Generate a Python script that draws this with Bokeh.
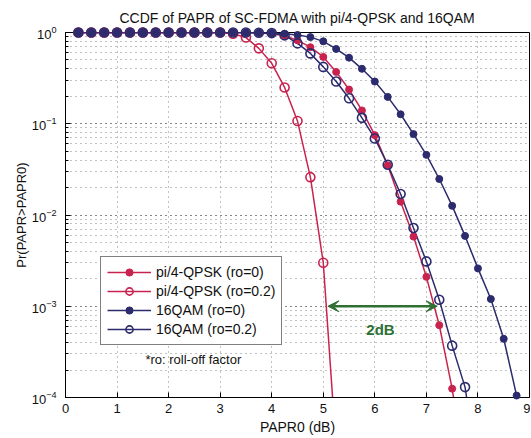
from bokeh.plotting import figure
from bokeh.models import (ColumnDataSource, Legend, LegendItem, Label, Arrow, VeeHead,
                          LogTicker, Range1d)
from bokeh.embed import file_html
from bokeh.resources import INLINE

FONT = "Liberation Sans"
RED = "#c8234f"
NAVY = "#2b2b6e"
GREEN = "#2e7033"

title_text = "CCDF of PAPR of SC-FDMA with pi/4-QPSK and 16QAM"
x_label = "PAPR0 (dB)"
y_label = "Pr(PAPR>PAPR0)"
x_ticks = [0, 1, 2, 3, 4, 5, 6, 7, 8, 9]

# pi/4-QPSK (ro=0)
qpsk0_x = [0.25, 0.5, 0.75, 1.0, 1.25, 1.5, 1.75, 2.0, 2.25, 2.5, 2.75, 3.0, 3.25, 3.5,
           3.75, 4.0, 4.25, 4.5, 4.75, 5.0, 5.25, 5.5, 5.75, 6.0, 6.25, 6.5, 6.75, 7.0,
           7.25, 7.5, 7.75]
qpsk0_y = [1.0, 1.0, 1.0, 1.0, 1.0, 1.0, 1.0, 1.0, 1.0, 1.0, 1.0, 1.0, 1.0, 1.0,
           0.99, 0.97, 0.92, 0.82, 0.69, 0.54, 0.37, 0.237, 0.14, 0.075, 0.035, 0.014, 0.0058, 0.0021,
           6.2e-4, 1.25e-4, 1.5e-5]

# pi/4-QPSK (ro=0.2)
qpsk2_x = [0.25, 0.5, 0.75, 1.0, 1.25, 1.5, 1.75, 2.0, 2.25, 2.5, 2.75, 3.0, 3.25, 3.5,
           3.75, 4.0, 4.25, 4.5, 4.75, 5.0, 5.25]
qpsk2_y = [1.0, 1.0, 1.0, 1.0, 1.0, 1.0, 1.0, 1.0, 1.0, 1.0, 1.0, 1.0, 0.97, 0.88,
           0.67, 0.46, 0.25, 0.107, 0.026, 0.0030, 2.7e-5]

# 16QAM (ro=0)
qam0_x = [0.25, 0.5, 0.75, 1.0, 1.25, 1.5, 1.75, 2.0, 2.25, 2.5, 2.75, 3.0, 3.25, 3.5,
          3.75, 4.0, 4.25, 4.5, 4.75, 5.0, 5.25, 5.5, 5.75, 6.0, 6.25, 6.5, 6.75, 7.0,
          7.25, 7.5, 7.75, 8.0, 8.25, 8.5, 8.75]
qam0_y = [1.0, 1.0, 1.0, 1.0, 1.0, 1.0, 1.0, 1.0, 1.0, 1.0, 1.0, 1.0, 1.0, 1.0,
          0.995, 0.985, 0.97, 0.94, 0.89, 0.80, 0.66, 0.53, 0.40, 0.29, 0.197, 0.127, 0.077, 0.0456,
          0.0248, 0.0126, 0.0059, 0.0026, 0.0012, 4.4e-4, 1.05e-4]

# 16QAM (ro=0.2)
qam2_x = [0.25, 0.5, 0.75, 1.0, 1.25, 1.5, 1.75, 2.0, 2.25, 2.5, 2.75, 3.0, 3.25, 3.5,
          3.75, 4.0, 4.25, 4.5, 4.75, 5.0, 5.25, 5.5, 5.75, 6.0, 6.25, 6.5, 6.75, 7.0,
          7.25, 7.5, 7.75, 8.0]
qam2_y = [1.0, 1.0, 1.0, 1.0, 1.0, 1.0, 1.0, 1.0, 1.0, 1.0, 1.0, 1.0, 1.0, 1.0,
          0.995, 0.985, 0.93, 0.76, 0.59, 0.42, 0.29, 0.19, 0.116, 0.069, 0.0355, 0.017, 0.0072, 0.0031,
          0.00118, 3.7e-4, 1.3e-4, 1.5e-5]

series = [
    ("pi/4-QPSK (ro=0)", qpsk0_x, qpsk0_y, RED, "filled"),
    ("pi/4-QPSK (ro=0.2)", qpsk2_x, qpsk2_y, RED, "open"),
    ("16QAM (ro=0)", qam0_x, qam0_y, NAVY, "filled"),
    ("16QAM (ro=0.2)", qam2_x, qam2_y, NAVY, "open"),
]

Y_MIN, Y_MAX = 1e-4, 1.0
X_MIN, X_MAX = 0, 9

p = figure(width=530, height=437, output_backend="svg", toolbar_location=None,
           y_axis_type="log", x_range=Range1d(X_MIN, X_MAX), y_range=Range1d(Y_MIN, Y_MAX),
           min_border_left=65, min_border_right=1, min_border_top=32, min_border_bottom=39)

p.title.text = title_text
p.title.align = "center"
p.title.text_font = FONT
p.title.text_font_size = "14px"
p.title.text_font_style = "normal"
p.title.text_color = "#111111"
p.title.standoff = 13

p.background_fill_color = "white"
p.border_fill_color = "white"
p.outline_line_color = "black"
p.outline_line_width = 1

p.xaxis.ticker = x_ticks
p.yaxis.ticker = LogTicker(num_minor_ticks=10)
for ax in (p.xaxis[0], p.yaxis[0]):
    ax.major_label_text_font = FONT
    ax.major_label_text_font_size = "13px"
    ax.major_label_text_color = "#111111"
    ax.axis_label_text_font = FONT
    ax.axis_label_text_font_style = "normal"
    ax.axis_label_text_color = "#111111"
    ax.axis_line_color = "black"
    ax.major_tick_in = 5
    ax.major_tick_out = 0
    ax.minor_tick_in = 3
    ax.minor_tick_out = 0
    ax.major_tick_line_color = "black"
    ax.minor_tick_line_color = "black"
p.xaxis.axis_label = x_label
p.yaxis.axis_label = y_label
p.xaxis.axis_label_text_font_size = "14px"
p.yaxis.axis_label_text_font_size = "13px"
p.xaxis.minor_tick_line_color = None
p.xaxis.major_label_standoff = 6
p.xaxis.axis_label_standoff = 3
p.yaxis.major_label_standoff = 9
p.yaxis.axis_label_standoff = 0

grid_col = "#666666"
p.xgrid.grid_line_color = grid_col
p.xgrid.grid_line_dash = "1 4"
p.xgrid.grid_line_alpha = 0.8
p.ygrid.grid_line_color = grid_col
p.ygrid.grid_line_dash = "1 4"
p.ygrid.grid_line_alpha = 0.8
p.ygrid.minor_grid_line_color = grid_col
p.ygrid.minor_grid_line_dash = "1 4"
p.ygrid.minor_grid_line_alpha = 0.8

items = []
for name, xs, ys, color, style in series:
    src = ColumnDataSource(dict(x=xs, y=ys))
    ln = p.line("x", "y", source=src, line_color=color, line_width=1.5)
    mx = [a for a, b in zip(xs, ys) if b >= Y_MIN * 0.999]
    my = [b for b in ys if b >= Y_MIN * 0.999]
    msrc = ColumnDataSource(dict(x=mx, y=my))
    if style == "filled":
        sc = p.scatter("x", "y", source=msrc, marker="circle", size=7,
                       fill_color=color, line_color=color, line_width=1)
    else:
        sc = p.scatter("x", "y", source=msrc, marker="circle", size=9,
                       fill_color=None, line_color=color, line_width=1.6)
    sc.level = "overlay"
    items.append(LegendItem(label=name, renderers=[ln, sc]))

legend = Legend(items=items, location=(35, 52))
legend.label_text_font = FONT
legend.label_text_font_size = "14px"
legend.label_text_color = "#111111"
legend.glyph_width = 44
legend.glyph_height = 18
legend.label_height = 18
legend.spacing = 1
legend.padding = 6
legend.margin = 0
legend.label_standoff = 5
legend.border_line_color = "black"
legend.border_line_width = 1
legend.background_fill_color = "white"
legend.background_fill_alpha = 1.0
p.add_layout(legend, "center")

arrow = Arrow(x_start=5.09, y_start=1e-3, x_end=7.21, y_end=1e-3,
              line_color=GREEN, line_width=2.5,
              start=VeeHead(size=11, fill_color=GREEN, line_color=GREEN),
              end=VeeHead(size=11, fill_color=GREEN, line_color=GREEN))
p.add_layout(arrow)

p.add_layout(Label(x=6.11, y=5.6e-4, text="2dB", text_font=FONT, text_font_size="15px",
                   text_font_style="bold", text_color=GREEN, text_align="center",
                   text_baseline="middle"))
p.add_layout(Label(x=1.55, y=2.6e-4, text="*ro: roll-off factor", text_font=FONT,
                   text_font_size="13px", text_color="#111111", text_align="left",
                   text_baseline="middle"))

open("out.html", "w").write(file_html(p, INLINE))
